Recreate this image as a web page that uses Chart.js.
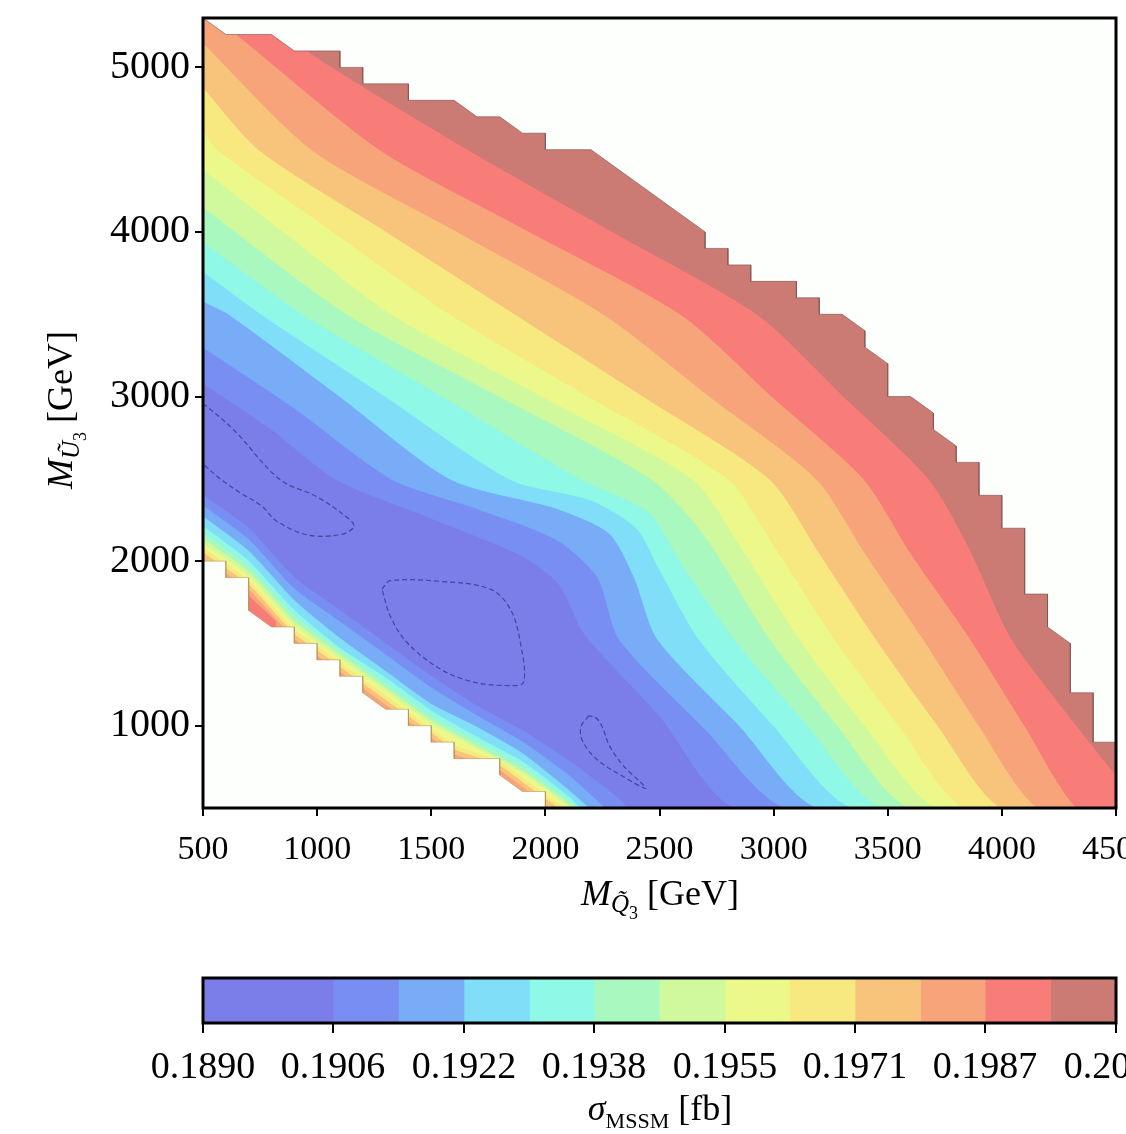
<!DOCTYPE html>
<html>
<head>
<meta charset="utf-8">
<script src="https://cdn.jsdelivr.net/npm/chart.js@4.4.1/dist/chart.umd.min.js"></script>
<style>
  html, body { margin:0; padding:0; background:#fff; overflow:hidden; }
  #wrap { position:relative; width:1126px; height:1134px; overflow:hidden; background:#fff; }
  #main { position:absolute; left:0; top:0; }
  #cbar { position:absolute; left:0; top:940px; }
</style>
</head>
<body>
<div id="wrap">
  <canvas id="main" width="1200" height="940"></canvas>
  <canvas id="cbar" width="1200" height="194"></canvas>
</div>
<script>
// contour levels of sigma_MSSM [fb] and colorbar ticks
const levels = [0.1890, 0.18981, 0.19061, 0.19142, 0.19223, 0.19304, 0.19384, 0.19465,
                0.19546, 0.19626, 0.19707, 0.19788, 0.19868, 0.19949, 0.2003];
const cbarTicks = [0.1890, 0.19061, 0.19223, 0.19384, 0.19546, 0.19707, 0.19868, 0.2003];
const cbarLabels = ['0.1890', '0.1906', '0.1922', '0.1938', '0.1955', '0.1971', '0.1987', '0.2003'];
const bandColors = ['#7b7de8', '#788ef2', '#78acf7', '#80def8', '#8ff8e6', '#a8f8c0', '#d0f89c',
                    '#ecf88a', '#f8e880', '#f8c47c', '#f8a47a', '#f87c78', '#cc7a74'];

const xTicks = [500, 1000, 1500, 2000, 2500, 3000, 3500, 4000, 4500];
const yTicks = [1000, 2000, 3000, 4000, 5000];

// band boundaries (main field), [M_Q3, M_U3] in GeV
const edge1  = [[500,3080],[800,2800],[1082,2497],[1500,2260],[1900,2030],[2060,1860],[2170,1560],[2500,1060],[2840,500],[4500,500]];
const edge2  = [[500,3300],[900,2930],[1328,2497],[1700,2320],[2050,2130],[2230,1900],[2323,1527],[2700,980],[3060,500],[4500,500]];
const edge3  = [[500,3580],[616,3497],[1100,3000],[1586,2497],[2050,2320],[2280,2170],[2390,1900],[2491,1527],[2850,1000],[3200,500],[4500,500]];
const edge4  = [[500,3760],[759,3497],[1300,3000],[1845,2497],[2200,2370],[2400,2200],[2500,1950],[2672,1527],[3000,1000],[3350,500],[4500,500]];
const edge5  = [[500,3940],[940,3497],[1550,3000],[2155,2497],[2450,2300],[2600,1980],[2827,1527],[3150,1000],[3480,500],[4500,500]];
const edge6  = [[500,4150],[1134,3497],[1800,3000],[2465,2497],[2700,2150],[2983,1527],[3280,1000],[3600,500],[4500,500]];
const edge7  = [[500,4380],[900,3950],[1328,3497],[2000,2990],[2646,2497],[2850,2100],[3112,1527],[3400,1000],[3720,500],[4500,500]];
const edge8  = [[500,4620],[565,4498],[1000,4070],[1586,3497],[2200,2992],[2802,2497],[3000,2100],[3267,1527],[3550,1000],[3840,500],[4500,500]];
const edge9  = [[500,4880],[746,4498],[1300,4005],[1871,3497],[2430,3000],[2983,2497],[3200,2050],[3448,1527],[3720,1000],[4000,500],[4500,500]];
const edge10 = [[500,5150],[978,4498],[1600,4012],[2258,3497],[2720,3000],[3189,2497],[3400,2050],[3655,1527],[3900,1000],[4160,500],[4500,500]];
const edge11 = [[560,5300],[700,5140],[1276,4498],[1900,4024],[2595,3497],[3000,2991],[3396,2497],[3600,2050],[3862,1527],[4100,1000],[4330,500],[4500,500]];
const edge12 = [[780,5300],[1000,5060],[1664,4498],[2300,3997],[2931,3497],[3300,3010],[3681,2497],[3850,2100],[4043,1527],[4300,1050],[4500,700]];

// thin rim of rising values along the lower-left edge
const rim1  = [[500,2400],[700,2200],[900,1900],[1100,1700],[1300,1500],[1500,1300],[1700,1120],[1900,970],[2100,790],[2300,580],[2360,500]];
const rim2  = [[500,2335],[700,2130],[900,1830],[1100,1630],[1300,1430],[1500,1230],[1700,1060],[1900,900],[2100,700],[2260,500]];
const rim3  = [[500,2270],[700,2060],[900,1760],[1100,1530],[1300,1330],[1500,1130],[1700,990],[1900,830],[2100,610],[2190,500]];
const rim4  = [[500,2210],[700,2000],[900,1700],[1100,1470],[1300,1290],[1500,1090],[1700,930],[1900,780],[2100,570],[2150,500]];
const rim5  = [[500,2170],[700,1965],[900,1665],[1100,1455],[1300,1255],[1500,1055],[1700,900],[1900,750],[2100,545],[2140,500]];
const rim6  = [[500,2135],[700,1935],[900,1635],[1100,1430],[1300,1230],[1500,1030],[1700,875],[1900,725],[2100,525],[2125,500]];
const rim7  = [[500,2105],[700,1910],[900,1610],[1100,1410],[1300,1210],[1500,1010],[1700,860],[1900,710],[2110,500]];
const rim8  = [[500,2075],[700,1880],[800,1730],[900,1580],[1000,1480],[1100,1380],[1200,1280],[1300,1180],[1400,1080],[1500,980],[1600,880],[1700,830],[1800,780],[1900,680],[2000,580],[2080,500]];
const rim9  = [[500,2050],[700,1855],[800,1705],[900,1555],[1000,1455],[1100,1355],[1200,1255],[1300,1155],[1400,1055],[1500,955],[1600,855],[1700,805],[1800,755],[1900,655],[2000,555],[2055,500]];
const rim10 = [[600,1925],[700,1825],[800,1675],[900,1525],[1000,1425],[1100,1325],[1200,1225],[1300,1125],[1400,1025],[1500,925],[1600,825],[1800,725],[1900,625],[2000,525]];
const rim11 = [[690,1800],[760,1710],[820,1630]];

// 0.1898 contour (same colour on both sides, only the seam shows)
const seamA = [[500,2960],[633,2800],[836,2497],[1000,2390],[1145,2250],[1160,2205],[1100,2160],[955,2160],[822,2244],[757,2335],[662,2416],[578,2497],[500,2590]];
const seamB = [[1284,1830],[1320,1881],[1539,1877],[1759,1830],[1846,1709],[1890,1507],[1905,1265],[1846,1244],[1686,1265],[1539,1345],[1393,1507],[1320,1668],[1284,1830]];
const seamC = [[2190,1060],[2155,990],[2165,900],[2230,790],[2330,700],[2440,620],[2340,760],[2280,880],[2250,990],[2220,1050],[2190,1060]];

// edges of the computed region
const topMask = [[500,5300],[600,5200],[800,5200],[900,5100],[1100,5100],[1100,5000],[1200,5000],[1200,4900],[1400,4900],[1400,4800],
  [1600,4800],[1700,4700],[1800,4700],[1900,4600],[2000,4600],[2000,4500],[2200,4500],[2700,4000],[2700,3900],[2800,3900],[2800,3800],
  [2900,3800],[2900,3700],[3100,3700],[3100,3600],[3200,3600],[3200,3500],[3300,3500],[3400,3400],[3400,3300],[3500,3200],[3500,3000],
  [3600,3000],[3700,2900],[3700,2800],[3800,2700],[3800,2600],[3900,2600],[3900,2400],[4000,2400],[4000,2200],[4100,2200],[4100,1800],
  [4200,1800],[4200,1600],[4300,1500],[4300,1200],[4400,1200],[4400,900],[4500,900]];
const lowMask = [[500,2000],[600,2000],[600,1900],[700,1900],[700,1700],[800,1600],[900,1600],[900,1500],[1000,1500],[1000,1400],
  [1100,1400],[1100,1300],[1200,1300],[1200,1200],[1300,1100],[1400,1100],[1400,1000],[1500,1000],[1500,900],[1600,900],[1600,800],
  [1800,800],[1800,700],[1900,600],[2000,600],[2000,500]];

const bandEdges = [edge1, edge2, edge3, edge4, edge5, edge6, edge7, edge8, edge9, edge10, edge11, edge12];
const rimEdges = [rim1, rim2, rim3, rim4, rim5, rim6, rim7, rim8, rim9, rim10, rim11];
const seams = [seamA, seamB, seamC];

const serif = '"Liberation Serif", "DejaVu Serif", serif';

function pts(a) { return a.map(p => ({x: p[0], y: p[1]})); }

/*
* datasets in drawing order (first one at the bottom)
*/
let datasets = [];
datasets.push({data: pts([[500,500],[4500,500]]), fill: 'end', backgroundColor: bandColors[0], borderColor: bandColors[0], tension: 0});
bandEdges.forEach((e, i) => {
    datasets.push({data: pts(e), fill: 'end', backgroundColor: bandColors[i+1], borderColor: bandColors[i+1], tension: 0.25});
});
rimEdges.forEach((e, i) => {
    datasets.push({data: pts(e), fill: 'start', backgroundColor: bandColors[i+1], borderColor: bandColors[i+1], tension: 0.2});
});
seams.forEach(s => {
    datasets.push({data: pts(s), fill: false, borderColor: 'rgba(60,52,140,0.8)', borderWidth: 1.2, borderDash: [5, 3], tension: 0.35});
});
datasets.push({data: pts(topMask), fill: 'end', backgroundColor: '#fcfffc', borderColor: 'rgba(120,80,80,0.6)', tension: 0});
datasets.push({data: pts(lowMask), fill: 'start', backgroundColor: '#fcfffc', borderColor: 'rgba(170,140,70,0.5)', tension: 0});
datasets.forEach((d, i) => {
    d.order = -i;
    d.pointRadius = 0;
    if (d.borderWidth === undefined) d.borderWidth = 1;
});

function drawRich(ctx, parts, x, y, rotate) {
    ctx.save();
    ctx.translate(x, y);
    if (rotate) ctx.rotate(-Math.PI / 2);
    let total = 0;
    parts.forEach(p => { ctx.font = p.font; p.w = ctx.measureText(p.text).width; total += p.w; });
    let cx = -total / 2;
    ctx.fillStyle = '#000';
    ctx.textBaseline = 'alphabetic';
    parts.forEach(p => { ctx.font = p.font; ctx.fillText(p.text, cx, p.dy || 0); cx += p.w; });
    ctx.restore();
}

const frame = {
    id: 'frame',
    afterDatasetsDraw(chart) {
        const {ctx, chartArea: a} = chart;
        ctx.save();
        ctx.lineWidth = 3;
        ctx.strokeStyle = '#000';
        ctx.strokeRect(a.left, a.top, a.right - a.left, a.bottom - a.top);
        ctx.restore();
    }
};

const axisTitles = {
    id: 'axisTitles',
    afterDraw(chart) {
        const ctx = chart.ctx;
        drawRich(ctx, [
            {text: 'M', font: 'italic 36px ' + serif},
            {text: 'Q\u0303', font: 'italic 25px ' + serif, dy: 7},
            {text: '3', font: '18px ' + serif, dy: 14},
            {text: ' [GeV]', font: '36px ' + serif}
        ], 660, 905, false);
        drawRich(ctx, [
            {text: 'M', font: 'italic 36px ' + serif},
            {text: 'U\u0303', font: 'italic 25px ' + serif, dy: 7},
            {text: '3', font: '18px ' + serif, dy: 14},
            {text: ' [GeV]', font: '36px ' + serif}
        ], 72, 410, true);
    }
};

new Chart(document.getElementById('main'), {
    type: 'line',
    data: {datasets: datasets},
    options: {
        responsive: false,
        animation: false,
        devicePixelRatio: 1,
        layout: {padding: {left: 0, top: 18, right: 84, bottom: 0}},
        plugins: {legend: {display: false}, tooltip: {enabled: false}},
        scales: {
            x: {
                type: 'linear', min: 500, max: 4500,
                afterBuildTicks: s => { s.ticks = xTicks.map(v => ({value: v})); },
                ticks: {color: '#000', font: {family: serif, size: 34}, padding: 14, maxRotation: 0, autoSkip: false,
                        callback: v => String(v)},
                grid: {drawOnChartArea: false, drawTicks: true, tickLength: 8, color: '#000', lineWidth: 2},
                border: {display: false},
                afterFit: s => { s.height = 132; s.paddingLeft = 0; s.paddingRight = 0; }
            },
            y: {
                type: 'linear', min: 500, max: 5300,
                afterBuildTicks: s => { s.ticks = yTicks.map(v => ({value: v})); },
                ticks: {color: '#000', font: {family: serif, size: 40}, padding: 5, autoSkip: false,
                        callback: v => String(v)},
                grid: {drawOnChartArea: false, drawTicks: true, tickLength: 8, color: '#000', lineWidth: 2},
                border: {display: false},
                afterFit: s => { s.width = 203; s.paddingTop = 0; s.paddingBottom = 0; }
            }
        }
    },
    plugins: [frame, axisTitles]
});

/*
* Colorbar
*/
const cbarBands = [[levels[0], levels[2]]];
for (let k = 2; k < levels.length - 1; k++) cbarBands.push([levels[k], levels[k+1]]);

const cbarTitle = {
    id: 'cbarTitle',
    afterDraw(chart) {
        drawRich(chart.ctx, [
            {text: '\u03c3', font: 'italic 36px ' + serif},
            {text: 'MSSM', font: '22px ' + serif, dy: 8},
            {text: ' [fb]', font: '36px ' + serif}
        ], 660, 180, false);
    }
};

new Chart(document.getElementById('cbar'), {
    type: 'bar',
    data: {
        labels: ['sigma'],
        datasets: cbarBands.map((b, i) => ({
            data: [b], backgroundColor: bandColors[i], borderWidth: 0,
            barPercentage: 1, categoryPercentage: 1, grouped: false
        }))
    },
    options: {
        indexAxis: 'y',
        responsive: false,
        animation: false,
        devicePixelRatio: 1,
        layout: {padding: {left: 0, top: 38, right: 84, bottom: 0}},
        plugins: {legend: {display: false}, tooltip: {enabled: false}},
        scales: {
            x: {
                type: 'linear', min: levels[0], max: levels[levels.length - 1],
                afterBuildTicks: s => { s.ticks = cbarTicks.map(v => ({value: v})); },
                ticks: {color: '#000', font: {family: serif, size: 38}, padding: 12, maxRotation: 0, autoSkip: false,
                        callback: (v, i) => cbarLabels[i]},
                grid: {drawOnChartArea: false, drawTicks: true, tickLength: 10, color: '#000', lineWidth: 2},
                border: {display: false},
                afterFit: s => { s.height = 111; s.paddingLeft = 0; s.paddingRight = 0; }
            },
            y: {
                ticks: {display: false},
                grid: {display: false},
                border: {display: false},
                afterFit: s => { s.width = 203; s.paddingTop = 0; s.paddingBottom = 0; }
            }
        }
    },
    plugins: [frame, cbarTitle]
});
</script>
</body>
</html>
